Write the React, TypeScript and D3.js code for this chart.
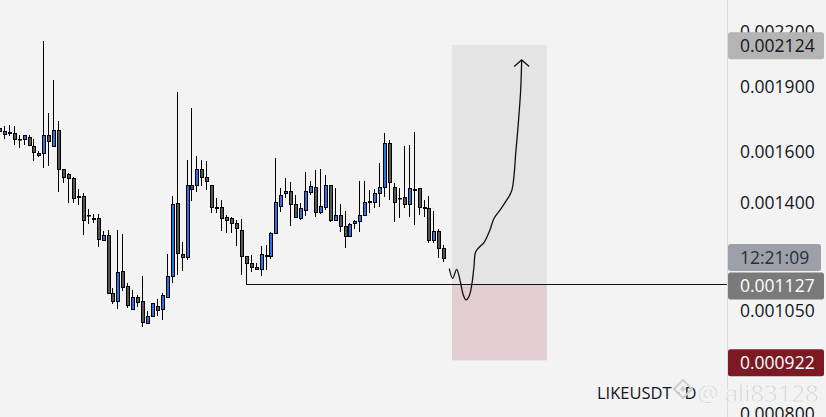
import { useRef, useEffect } from "react";
import * as d3 from "d3";

// daily candles (log price axis)
const opens = [
    0.001704, 0.001679, 0.001686, 0.001681, 0.001656, 0.001654, 0.001663, 0.001626, 0.001595, 0.001594,
    0.001672, 0.001625, 0.001696, 0.001528, 0.00151, 0.001494, 0.001424, 0.001424, 0.001354, 0.001342,
    0.001342, 0.001268, 0.001284, 0.001101, 0.00108, 0.001167, 0.001122, 0.001057, 0.00109, 0.001078,
    0.001019, 0.001037, 0.001065, 0.001055, 0.001091, 0.001151, 0.001397, 0.001221, 0.001213, 0.001465,
    0.001465, 0.001528, 0.001498, 0.001465, 0.001382, 0.001382, 0.001346, 0.001343, 0.001325, 0.001302,
    0.001215, 0.001192, 0.00118, 0.001173, 0.001219, 0.001215, 0.001291, 0.001387, 0.001436, 0.001442,
    0.001393, 0.001344, 0.001374, 0.001438, 0.001457, 0.001366, 0.001385, 0.001465, 0.001338, 0.001353,
    0.001316, 0.001282, 0.001325, 0.001332, 0.001353, 0.001402, 0.001403, 0.001436, 0.001457, 0.001639,
    0.001459, 0.001418, 0.001419, 0.001393, 0.001449, 0.001454, 0.001382, 0.001378, 0.001266, 0.001297,
    0.00124,
];
const highs = [
    0.001733, 0.001713, 0.001718, 0.001713, 0.001674, 0.001673, 0.001672, 0.001656, 0.001603, 0.002146,
    0.001774, 0.001936, 0.001736, 0.001529, 0.001513, 0.001497, 0.001451, 0.001434, 0.001375, 0.001357,
    0.001357, 0.001299, 0.001302, 0.001117, 0.001302, 0.001288, 0.001132, 0.001111, 0.001097, 0.001152,
    0.00105, 0.001072, 0.001084, 0.001101, 0.001222, 0.001424, 0.001877, 0.001261, 0.001567, 0.001797,
    0.001582, 0.001567, 0.001563, 0.001466, 0.001416, 0.001409, 0.001354, 0.001348, 0.001337, 0.001339,
    0.001216, 0.001219, 0.001192, 0.001249, 0.001252, 0.001296, 0.001573, 0.001454, 0.001493, 0.001478,
    0.001427, 0.001397, 0.001517, 0.001483, 0.001526, 0.00153, 0.001507, 0.001466, 0.001455, 0.001393,
    0.001368, 0.001325, 0.001338, 0.001483, 0.001483, 0.001447, 0.001452, 0.001555, 0.001682, 0.001652,
    0.001473, 0.001454, 0.001626, 0.00163, 0.001687, 0.001455, 0.001409, 0.001424, 0.001368, 0.001304,
    0.001252,
];
const lows = [
    0.001681, 0.001656, 0.001669, 0.00163, 0.001617, 0.00163, 0.001628, 0.001564, 0.00158, 0.001535,
    0.001543, 0.001624, 0.00144, 0.001475, 0.001399, 0.001399, 0.00139, 0.001286, 0.001322, 0.001325,
    0.001246, 0.001265, 0.001098, 0.001071, 0.001057, 0.001109, 0.00106, 0.001056, 0.001061, 0.001008,
    0.001016, 0.001033, 0.001037, 0.001027, 0.00109, 0.001132, 0.001156, 0.001169, 0.001202, 0.001405,
    0.00144, 0.001464, 0.001447, 0.00136, 0.001362, 0.001297, 0.001293, 0.001293, 0.001249, 0.001156,
    0.001127, 0.001166, 0.001171, 0.001153, 0.001171, 0.001205, 0.00129, 0.001364, 0.001415, 0.001316,
    0.001342, 0.001337, 0.001351, 0.001428, 0.001348, 0.001357, 0.001372, 0.001331, 0.001336, 0.001296,
    0.00124, 0.001281, 0.001305, 0.001296, 0.001352, 0.001362, 0.001378, 0.001382, 0.001421, 0.001409,
    0.001331, 0.001342, 0.001381, 0.001348, 0.001318, 0.001354, 0.001346, 0.001259, 0.001259, 0.00121,
    0.001195,
];
const closes = [
    0.001692, 0.001692, 0.001684, 0.001654, 0.001655, 0.001672, 0.001629, 0.001598, 0.001588, 0.001672,
    0.001646, 0.001696, 0.001528, 0.001497, 0.001493, 0.001418, 0.001419, 0.001338, 0.001353, 0.001341,
    0.00127, 0.001284, 0.001101, 0.00108, 0.001164, 0.00112, 0.001066, 0.00109, 0.001077, 0.001021,
    0.001038, 0.001072, 0.001053, 0.001095, 0.001152, 0.001394, 0.001224, 0.001213, 0.001465, 0.001452,
    0.001528, 0.001497, 0.001483, 0.001382, 0.001381, 0.001342, 0.001338, 0.001325, 0.001308, 0.001215,
    0.001192, 0.001181, 0.001173, 0.001221, 0.001214, 0.001291, 0.001401, 0.001427, 0.001442, 0.001393,
    0.001348, 0.001378, 0.001442, 0.001461, 0.001364, 0.001386, 0.001465, 0.001338, 0.001353, 0.001314,
    0.001282, 0.001322, 0.001332, 0.001353, 0.001401, 0.001405, 0.001436, 0.001457, 0.001639, 0.001477,
    0.001401, 0.001417, 0.001393, 0.001455, 0.001448, 0.001384, 0.001381, 0.001266, 0.001297, 0.00124,
    0.00121,
];

const priceTicks = [0.0008, 0.00105, 0.0014, 0.0016, 0.0019, 0.0022];

// long position tool
const targetPrice = 0.002124;
const entryPrice = 0.001127;
const stopPrice = 0.000922;
const entryBar = 50;
const zoneStartBar = 91.75;
const zoneEndBar = 110.95;

// hand-drawn projection (bar offset, price)
const pathBars = [
    91.21, 91.9, 92.71, 93.38, 94.05, 94.59, 95.26, 95.81, 96.21, 96.56, 97.43, 98.24, 99.45, 100.26,
    101.48, 102.69, 103.85, 104.72, 105.19, 105.67, 105.87,
];
const pathPrices = [
    0.001175, 0.001145, 0.001173, 0.00114, 0.001096, 0.001082, 0.001094, 0.00113, 0.001181, 0.001229,
    0.001246, 0.001259, 0.001302, 0.001342, 0.001372, 0.001405, 0.001444, 0.001608, 0.001726, 0.001885,
    0.002041,
];

const countdown = "12:21:09";
const symbolLabel = "LIKEUSDT · D";
const watermark = "@ ali83128";

const App: React.FC = () => {
    const svgRef = useRef<SVGSVGElement | null>(null);

    useEffect(() => {
        if (!svgRef.current) return;

        const width = 826;
        const height = 417;
        const axisX = 727.5;
        const font = "'Open Sans', sans-serif";
        const fmt = (v: number) => v.toFixed(6);

        const x = d3.scaleLinear().domain([0, 90]).range([-1.1, 443.3]);
        const y = d3.scaleLog().domain([0.0008, 0.0022]).range([414, 31.6]);

        const svg = d3.select(svgRef.current);
        svg.selectAll("*").remove();
        svg.attr("width", width).attr("height", height);

        svg.append("rect")
            .attr("width", width)
            .attr("height", height)
            .attr("fill", "#f3f3f3");

        const plot = svg.append("g");

        // target / stop zones
        plot.append("rect")
            .attr("x", x(zoneStartBar))
            .attr("y", y(targetPrice))
            .attr("width", x(zoneEndBar) - x(zoneStartBar))
            .attr("height", y(entryPrice) - y(targetPrice))
            .attr("fill", "#e4e4e4");
        plot.append("rect")
            .attr("x", x(zoneStartBar))
            .attr("y", y(entryPrice))
            .attr("width", x(zoneEndBar) - x(zoneStartBar))
            .attr("height", y(stopPrice) - y(entryPrice))
            .attr("fill", "#e0ced1");

        // candles
        const idx = d3.range(opens.length);
        const candle = plot
            .append("g")
            .selectAll("g")
            .data(idx)
            .join("g");

        candle
            .append("line")
            .attr("x1", (i) => Math.round(x(i)) + 0.5)
            .attr("x2", (i) => Math.round(x(i)) + 0.5)
            .attr("y1", (i) => Math.round(y(highs[i])))
            .attr("y2", (i) => Math.round(y(lows[i])))
            .attr("stroke", "#000")
            .attr("stroke-width", 1);

        candle
            .append("rect")
            .attr("x", (i) => Math.round(x(i)) - 0.5)
            .attr("width", 3)
            .attr("y", (i) => Math.round(y(Math.max(opens[i], closes[i]))) + 0.5)
            .attr("height", (i) =>
                Math.max(
                    0.5,
                    Math.round(y(Math.min(opens[i], closes[i]))) -
                        Math.round(y(Math.max(opens[i], closes[i]))),
                ),
            )
            .attr("fill", (i) => (closes[i] > opens[i] ? "#2f6fe4" : "#555555"))
            .attr("stroke", "#000")
            .attr("stroke-width", 1);

        // entry level line
        const ey = Math.round(y(entryPrice)) + 0.5;
        plot.append("line")
            .attr("x1", Math.round(x(entryBar)))
            .attr("x2", axisX)
            .attr("y1", ey)
            .attr("y2", ey)
            .attr("stroke", "#111")
            .attr("stroke-width", 1);

        // projection path with arrow
        const pts: [number, number][] = pathBars.map((b, i) => [b, pathPrices[i]]);
        const line = d3
            .line<[number, number]>()
            .x((d) => x(d[0]))
            .y((d) => y(d[1]))
            .curve(d3.curveCatmullRom.alpha(0.5));
        plot.append("path")
            .attr("d", line(pts))
            .attr("fill", "none")
            .attr("stroke", "#111")
            .attr("stroke-width", 1.3);
        const tip = pts[pts.length - 1];
        const tx = x(tip[0]);
        const ty = y(tip[1]);
        plot.append("path")
            .attr("d", `M${tx - 7.5},${ty + 6.5}L${tx},${ty}L${tx + 7.5},${ty + 6.5}`)
            .attr("fill", "none")
            .attr("stroke", "#111")
            .attr("stroke-width", 1.3);

        // price axis
        svg.append("line")
            .attr("x1", axisX)
            .attr("x2", axisX)
            .attr("y1", 0)
            .attr("y2", height)
            .attr("stroke", "#dcdcdc");

        svg.append("g")
            .selectAll("text")
            .data(priceTicks)
            .join("text")
            .attr("x", 740)
            .attr("y", (d) => y(d))
            .attr("dy", "0.35em")
            .attr("font-family", font)
            .attr("font-size", 17.5)
            .attr("fill", "#131722")
            .text((d) => fmt(d));

        const tag = (yc: number, label: string, bg: string, fg: string, w: number) => {
            const g = svg.append("g");
            g.append("rect")
                .attr("x", 728)
                .attr("y", yc - 13.5)
                .attr("width", w)
                .attr("height", 27)
                .attr("rx", 2.5)
                .attr("fill", bg);
            g.append("text")
                .attr("x", 740)
                .attr("y", yc)
                .attr("dy", "0.35em")
                .attr("font-family", font)
                .attr("font-size", 17.5)
                .attr("fill", fg)
                .text(label);
        };

        tag(y(targetPrice) + 0.8, fmt(targetPrice), "#b4b4b4", "#131722", 96);
        tag(y(closes[closes.length - 1]), countdown, "#9da0a9", "#2a2e39", 93);
        tag(y(entryPrice) + 1.5, fmt(entryPrice), "#7a7a7a", "#ffffff", 96);
        tag(y(stopPrice) + 2.5, fmt(stopPrice), "#7d1922", "#ffffff", 96);

        // symbol and watermark
        svg.append("text")
            .attr("x", 597)
            .attr("y", 399)
            .attr("font-family", font)
            .attr("font-size", 16.5)
            .attr("fill", "#131722")
            .text(symbolLabel);

        const logo = svg.append("g").attr("transform", "translate(683,389)");
        logo.append("path")
            .attr("d", "M0,-9L9,0L0,9L-9,0Z")
            .attr("fill", "none")
            .attr("stroke", "#cfcfcf")
            .attr("stroke-width", 2.2);
        logo.append("path")
            .attr("d", "M0,-3L3,0L0,3L-3,0Z")
            .attr("fill", "#cfcfcf");

        svg.append("text")
            .attr("x", 697)
            .attr("y", 402)
            .attr("font-family", font)
            .attr("font-size", 24)
            .attr("fill", "#cacaca")
            .attr("stroke", "#f7f7f7")
            .attr("stroke-width", 0.8)
            .text(watermark);
    }, []);

    return (
        <svg
            ref={svgRef}
            style={{ position: "absolute", left: 0, top: 0, display: "block" }}
        />
    );
};

export default App;
